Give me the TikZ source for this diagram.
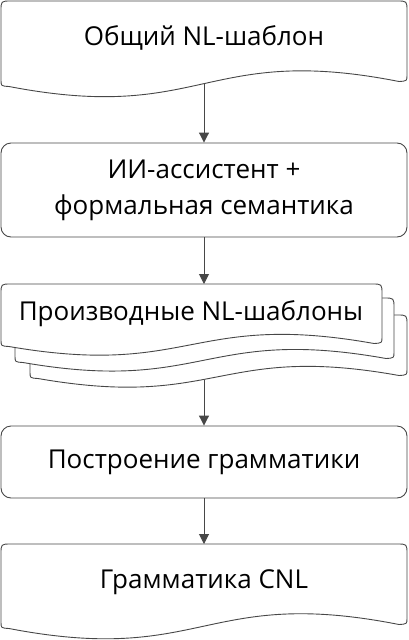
\documentclass[tikz,border=0pt]{standalone}
\usepackage{fontspec}
\setmainfont{Open Sans}
\usetikzlibrary{arrows.meta}
\tikzset{
  shapeline/.style={draw=black!72, line width=0.9pt, fill=white},
  procbox/.style={shapeline, rectangle, rounded corners=10pt, inner sep=0pt, minimum width=406pt, align=center},
  lbl/.style={font=\fontsize{26}{36}\selectfont, inner sep=0pt, align=center},
  flow/.style={draw=black!72, line width=1pt, -{Triangle[length=10pt,width=10pt]}}
}
% #1 x1, #2 top, #3 x2, #4 left bottom, #5 right bottom, #6 wave strength
\newcommand\mydoc[6]{%
  \draw[shapeline] (#1,#4-6) -- (#1,#2+10) .. controls (#1,#2) .. (#1+10,#2)
    -- (#3-10,#2) .. controls (#3,#2) .. (#3,#2+10) -- (#3,#5-6)
    .. controls (#3,#5) .. (#3-8,#5+0.5)
    .. controls ({(#1+#3)/2},#5-#6) and ({(#1+#3)/2},#4+#6) .. (#1+8,#4+0.5)
    .. controls (#1,#4) .. cycle;}
\begin{document}
\begin{tikzpicture}[x=1pt,y=-1pt]
  \useasboundingbox (0,0) rectangle (408,640);
  % box 1
  \mydoc{1}{1}{407}{86}{81}{38}
  \node[lbl, anchor=base] (t1) at (204,45) {Общий NL-шаблон};
  \coordinate (b1) at (204,84);
  % box 2
  \node[procbox, minimum height=94pt, lbl] (ai) at (204,190) {ИИ-ассистент +\\формальная семантика};
  % box 3 (stack)
  \mydoc{30}{315}{407}{378}{375}{32}
  \mydoc{15}{298}{394}{362}{358}{32}
  \mydoc{1}{284}{382}{346}{343}{32}
  \node[lbl, anchor=base] (t3) at (191,320) {Производные NL-шаблоны};
  \coordinate (top3) at (204,284);
  \coordinate (b3) at (204,380);
  % box 4
  \node[procbox, minimum height=72pt, lbl] (gram) at (204,462) {Построение грамматики};
  % box 5
  \mydoc{1}{544}{407}{628}{624}{38}
  \node[lbl, anchor=base] (t5) at (204,588) {Грамматика CNL};
  \coordinate (top5) at (204,544);
  % connectors
  \draw[flow] (b1) -- (ai.north);
  \draw[flow] (ai.south) -- (top3);
  \draw[flow] (b3) -- (gram.north);
  \draw[flow] (gram.south) -- (top5);
\end{tikzpicture}
\end{document}
